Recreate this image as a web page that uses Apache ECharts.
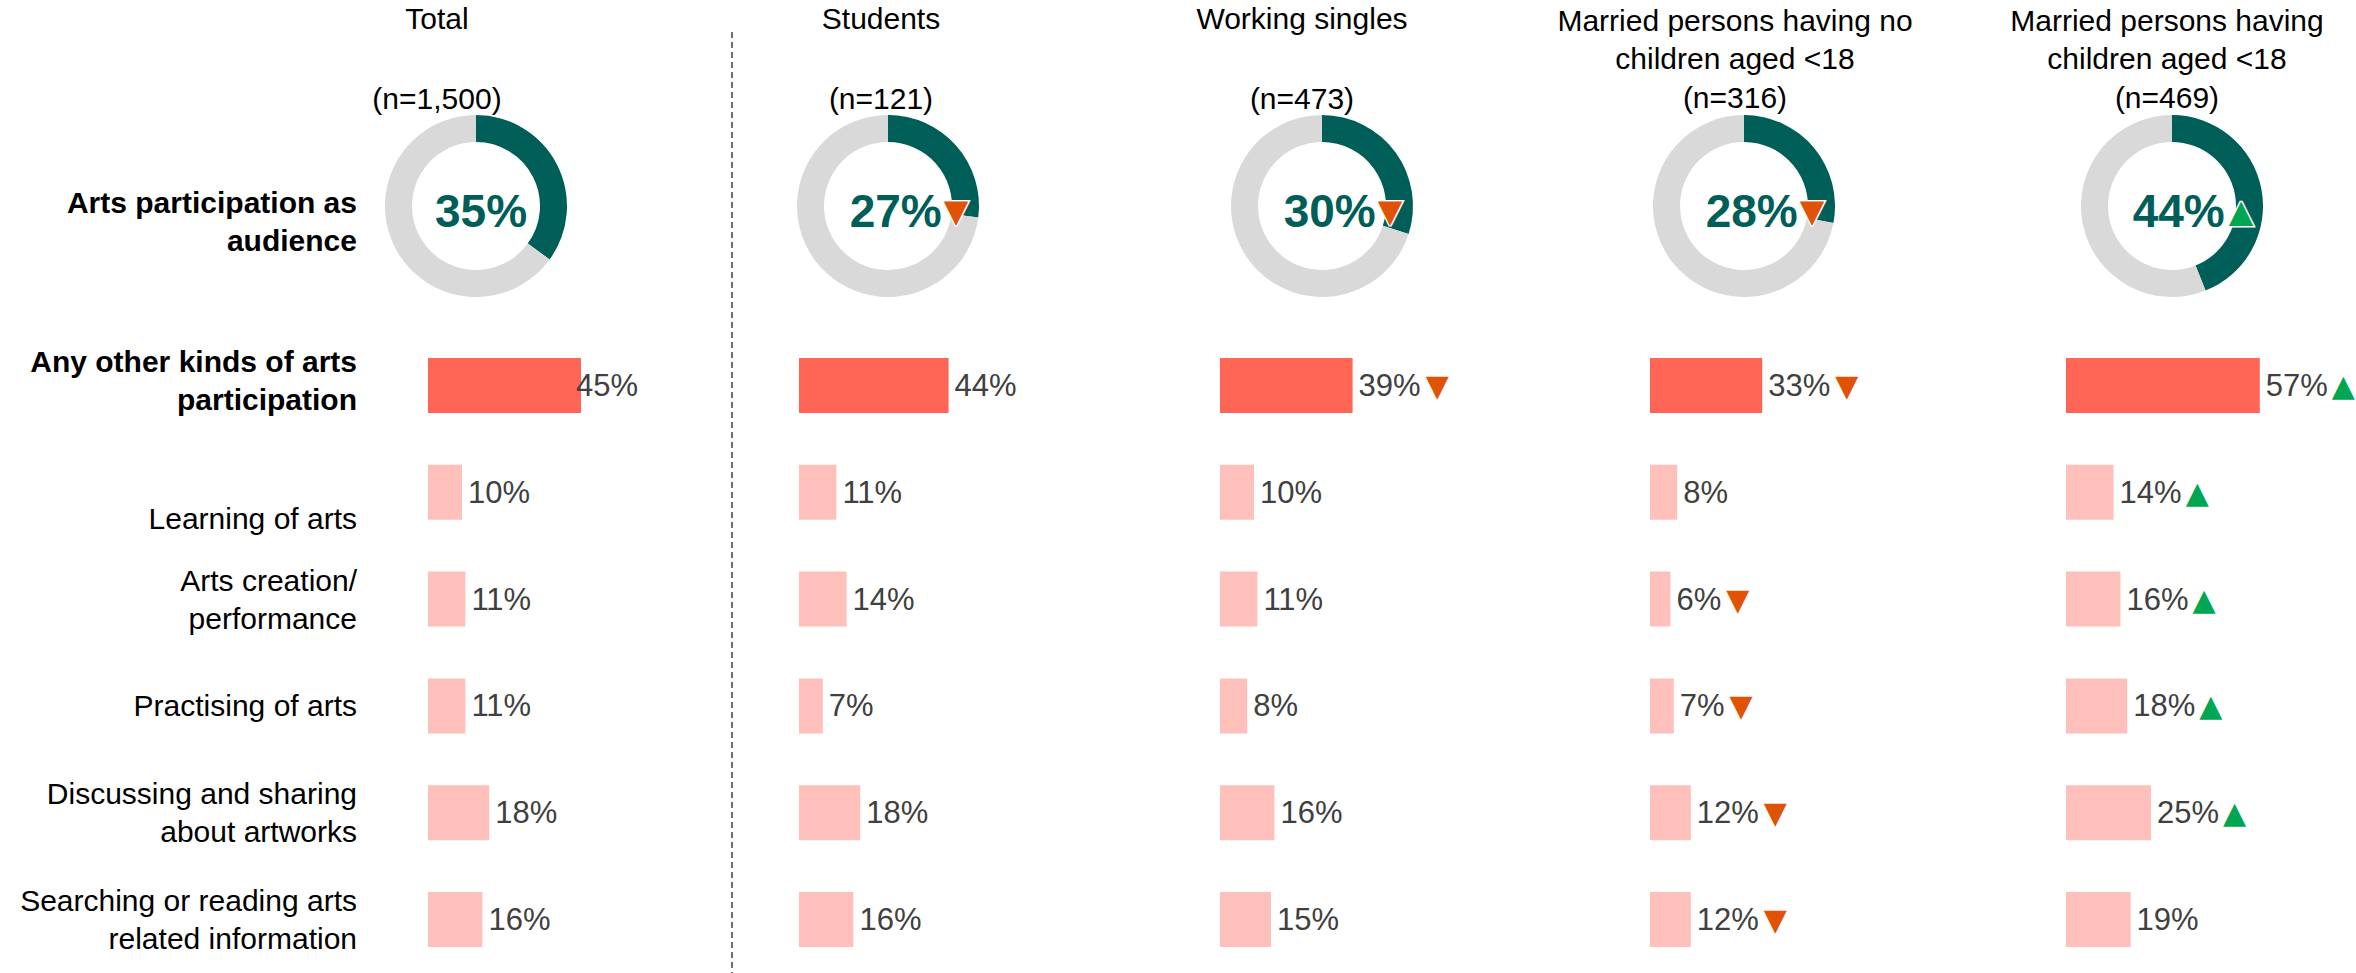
<!DOCTYPE html>
<html lang="en">
<head>
<meta charset="UTF-8">
<title>Arts participation</title>
<script src="https://cdn.jsdelivr.net/npm/echarts@6/dist/echarts.min.js"></script>
<style>
  html, body { margin: 0; padding: 0; background: #fff; }
  #main { width: 2356px; height: 973px; }
</style>
</head>
<body>
<div id="main"></div>
<script type="text/javascript">
// column groups and sample sizes
var groups = ['Total', 'Students', 'Working singles',
    'Married persons having no\nchildren aged <18', 'Married persons having\nchildren aged <18'];
var sampleSizes = ['(n=1,500)', '(n=121)', '(n=473)', '(n=316)', '(n=469)'];

// donut row: arts participation as audience (%)
var audienceLabel = 'Arts participation as\naudience';
var audience = [35, 27, 30, 28, 44];
var audienceMark = ['', 'down', 'down', 'down', 'up'];

// bar rows (%)
var rows = ['Any other kinds of arts\nparticipation', 'Learning of arts', 'Arts creation/\nperformance',
    'Practising of arts', 'Discussing and sharing\nabout artworks', 'Searching or reading arts\nrelated information'];
var totalVals    = [45, 10, 11, 11, 18, 16];
var studentVals  = [44, 11, 14, 7, 18, 16];
var workingVals  = [39, 10, 11, 8, 16, 15];
var noChildVals  = [33, 8, 6, 7, 12, 12];
var childVals    = [57, 14, 16, 18, 25, 19];
var barVals = [totalVals, studentVals, workingVals, noChildVals, childVals];

// significance markers vs total
var totalMarks   = ['', '', '', '', '', ''];
var studentMarks = ['', '', '', '', '', ''];
var workingMarks = ['down', '', '', '', '', ''];
var noChildMarks = ['down', '', 'down', 'down', 'down', 'down'];
var childMarks   = ['up', 'up', 'up', 'up', 'up', ''];
var barMarks = [totalMarks, studentMarks, workingMarks, noChildMarks, childMarks];

// layout / style
var FONT = '"Liberation Sans", Arial, sans-serif';
var TEAL = '#005E59', GREY = '#D9D9D9';
var BAR_MAIN = '#FF6554', BAR_SUB = '#FFC0BB';
var DOWN = '#E05206', UP = '#00A651';
var barLeft = [428, 799, 1220, 1650, 2066];
var donutX = [476, 888, 1322, 1744, 2172];
var headX = [437, 881, 1302, 1735, 2167];
var PX_PER_PCT = 3.4, AXIS_MAX = 60;

var myChart = echarts.init(document.getElementById('main'), null, {renderer: 'svg'});

function markRich(border) {
    var base = {fontFamily: '"DejaVu Sans", sans-serif', fontSize: 30, verticalAlign: 'middle', lineHeight: 36};
    var down = Object.assign({}, base, {color: DOWN, padding: [0, 0, 0, 5]});
    var up = Object.assign({}, base, {color: UP, padding: [0, 0, 0, 4]});
    if (border) {
        down = Object.assign(down, {fontSize: 32, textBorderColor: '#fff', textBorderWidth: 3, padding: [0, 0, 0, 2]});
        up = Object.assign(up, {fontSize: 32, textBorderColor: '#fff', textBorderWidth: 3, padding: [0, 0, 0, 4]});
    }
    return {down: down, up: up};
}
function markText(m) {
    if (m === 'down') return '{down|\u25BC}';
    if (m === 'up') return '{up|\u25B2}';
    return '';
}

var grids = [], xAxes = [], yAxes = [], series = [], graphics = [];

// headers
groups.forEach(function (g, i) {
    var lines = g.split('\n').concat([sampleSizes[i]]);
    if (lines.length === 2) {
        graphics.push({type: 'text', style: {text: lines[0], x: headX[i], y: 18, align: 'center', verticalAlign: 'middle',
            font: '30px ' + FONT, fill: '#000'}});
        graphics.push({type: 'text', style: {text: lines[1], x: headX[i], y: 98, align: 'center', verticalAlign: 'middle',
            font: '30px ' + FONT, fill: '#000'}});
    } else {
        lines.forEach(function (t, k) {
            graphics.push({type: 'text', style: {text: t, x: headX[i], y: 20 + k * 38.5, align: 'center', verticalAlign: 'middle',
                font: '30px ' + FONT, fill: '#000'}});
        });
    }
});

// donut row label
graphics.push({type: 'text', style: {text: audienceLabel, x: 357, y: 221, align: 'right', verticalAlign: 'middle',
    font: 'bold 30px ' + FONT, fill: '#000', lineHeight: 38}});

// dashed divider
graphics.push({type: 'line', shape: {x1: 732, y1: 32, x2: 732, y2: 973},
    style: {stroke: '#404040', lineWidth: 1.5, lineDash: [6, 4]}});

// donuts
audience.forEach(function (v, i) {
    var m = audienceMark[i];
    var rich = markRich(true);
    rich.v = {fontFamily: FONT, fontSize: 46, fontWeight: 'bold', color: TEAL, verticalAlign: 'middle', lineHeight: 50};
    series.push({
        type: 'pie',
        center: [donutX[i], 206],
        radius: [64, 91],
        startAngle: 90,
        silent: true,
        labelLine: {show: false},
        label: {
            show: true, position: 'center',
            formatter: function () { return '{v|' + v + '%}' + markText(m); },
            rich: rich,
            offset: [m ? 21 : 5, 5]
        },
        data: [
            {value: v, itemStyle: {color: TEAL}},
            {value: 100 - v, itemStyle: {color: GREY}, label: {show: false}}
        ]
    });
});

// bar grids
barVals.forEach(function (vals, g) {
    grids.push({left: barLeft[g], top: 332, width: AXIS_MAX * PX_PER_PCT, height: 653});
    xAxes.push({type: 'value', gridIndex: g, min: 0, max: AXIS_MAX, show: false});
    yAxes.push({
        type: 'category', gridIndex: g, data: rows, inverse: true,
        axisLine: {show: false}, axisTick: {show: false}, splitLine: {show: false},
        axisLabel: {
            show: g === 0, margin: 71, color: '#000', fontFamily: FONT, fontSize: 30, lineHeight: 38,
            formatter: function (val, idx) {
                var style = idx === 0 ? 'b' : (idx === 1 ? 'low' : 'n');
                return val.split('\n').map(function (s) { return '{' + style + '|' + s + '}'; }).join('\n');
            },
            rich: {
                b: {fontFamily: FONT, fontSize: 30, fontWeight: 'bold', color: '#000', lineHeight: 38, padding: [0, 0, 9, 0]},
                n: {fontFamily: FONT, fontSize: 30, color: '#000', lineHeight: 38},
                low: {fontFamily: FONT, fontSize: 30, color: '#000', lineHeight: 38, padding: [52, 0, 0, 0]}
            }
        }
    });
    var marks = barMarks[g];
    var rich = markRich(false);
    rich.v = {fontFamily: FONT, fontSize: 31, color: '#404040', verticalAlign: 'middle', lineHeight: 36};
    series.push({
        type: 'bar',
        xAxisIndex: g, yAxisIndex: g,
        barWidth: 55,
        silent: true,
        label: {
            show: true, position: 'right', distance: 6,
            formatter: function (p) { return '{v|' + p.value + '%}' + markText(marks[p.dataIndex]); },
            rich: rich
        },
        data: vals.map(function (v, i) {
            var item = {value: v, itemStyle: {color: i === 0 ? BAR_MAIN : BAR_SUB}};
            if (g === 0 && i === 0) item.label = {distance: -5};
            return item;
        })
    });
});

myChart.setOption({
    animation: false,
    grid: grids,
    xAxis: xAxes,
    yAxis: yAxes,
    series: series,
    graphic: graphics
});
</script>
</body>
</html>
